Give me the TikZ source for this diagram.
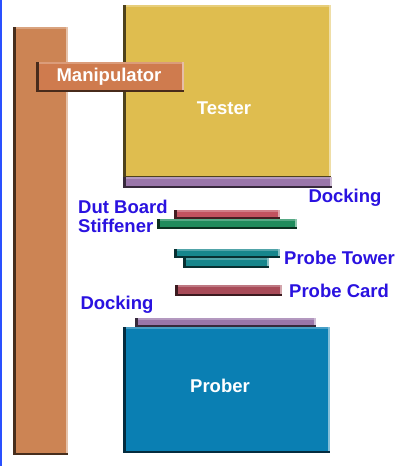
\documentclass[tikz,border=0pt]{standalone}
\usepackage{fontspec}
\setmainfont{Liberation Sans}
\usepackage{xcolor}
\usetikzlibrary{fit,positioning}
\definecolor{columnc}{HTML}{CC8454}
\definecolor{manipc}{HTML}{CF7B4E}
\definecolor{testerc}{HTML}{DFBD4F}
\definecolor{dockc}{HTML}{9A76AA}
\definecolor{dutc}{HTML}{C2525F}
\definecolor{stiffc}{HTML}{1F8C5C}
\definecolor{towerc}{HTML}{17868C}
\definecolor{cardc}{HTML}{A84B58}
\definecolor{proberc}{HTML}{0A7FB3}
\definecolor{lblblue}{HTML}{2A12E0}
\definecolor{edgeblue}{HTML}{2A50FF}
\tikzset{
  slab/.style={fill=#1, inner sep=0pt, outer sep=0pt, path picture={
    \fill[#1!75!white] ([yshift=-1.5pt]path picture bounding box.north west) rectangle (path picture bounding box.north east);
    \fill[#1!50!white] ([xshift=-2.5pt]path picture bounding box.south east) rectangle (path picture bounding box.north east);
    \fill[#1!35!black] (path picture bounding box.south west) rectangle ([yshift=2pt]path picture bounding box.south east);
    \fill[#1!35!black] (path picture bounding box.south west) rectangle ([xshift=2.5pt]path picture bounding box.north west);
  }},
  whitelbl/.style={font=\bfseries\fontsize{18.5}{21}\selectfont, text=white, inner sep=0pt},
  bluelbl/.style={font=\bfseries\fontsize{18.5}{21}\selectfont, text=lblblue, inner sep=0pt},
}
\begin{document}
\begin{tikzpicture}[x=1pt,y=-1pt]
  \useasboundingbox (0,0) rectangle (398,466);
  \fill[white] (0,0) rectangle (398,466);
  \fill[edgeblue] (0,0) rectangle (2,466);
  % ---- frame ----
  \node[slab=columnc, fit={(13,27)(68,455)}] (column) {};
  \node[slab=testerc, fit={(123,5)(331,178)}] (tester) {};
  \node[slab=manipc, fit={(36,62)(184,92)}] (manip) {};
  \node[slab=dockc, fit={(123,177)(332,188)}] (dockup) {};
  % ---- stack ----
  \node[slab=dutc, fit={(174,210)(280,219)}] (dut) {};
  \node[slab=stiffc, fit={(157,219)(297,229)}] (stiff) {};
  \node[slab=towerc, fit={(174,249)(280,258)}] (towerup) {};
  \node[slab=towerc, fit={(183,258)(269,268)}] (towerlow) {};
  \node[slab=cardc, fit={(175,285)(282,296)}] (card) {};
  \node[slab=dockc, fit={(135,318)(316,327)}] (docklow) {};
  \node[slab=proberc, fit={(123,327)(330,453)}] (prober) {};
  % ---- labels ----
  \node[whitelbl] (manipl) at (109,77) {Manipulator};
  \node[whitelbl] (testerl) at (224,108) {Tester};
  \node[whitelbl] (proberl) at (220,386) {Prober};
  \node[bluelbl] (dockupl) at (345,198) {Docking};
  \node[bluelbl, anchor=west] (dutl) at (78,207) {Dut Board};
  \node[bluelbl, anchor=west] (stiffl) at (78,226) {Stiffener};
  \node[bluelbl, right=4pt of towerup.south east] (towerl) {Probe Tower};
  \node[bluelbl, right=7pt of card] (cardl) {Probe Card};
  \node[bluelbl] (docklowl) at (117,305) {Docking};
\end{tikzpicture}
\end{document}
